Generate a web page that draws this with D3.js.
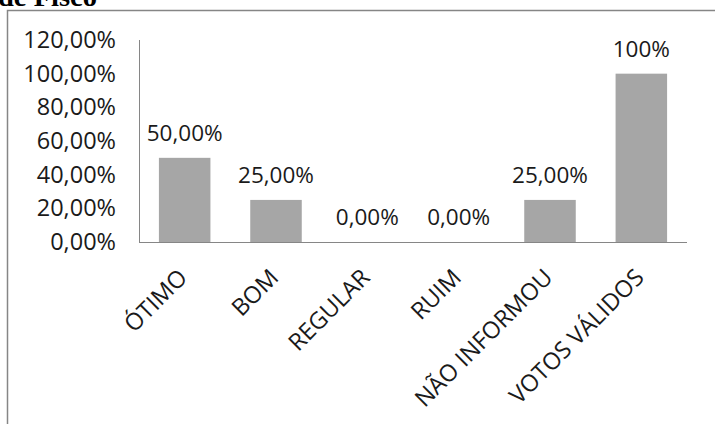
<!DOCTYPE html>
<html>
<head>
<meta charset="utf-8">
<script src="https://cdn.jsdelivr.net/npm/d3@7"></script>
<style>
  html, body { margin: 0; padding: 0; background: #fff; overflow: hidden; }
  svg { display: block; }
</style>
</head>
<body>
<svg id="chart" width="715" height="424"></svg>
<script>
const categories = ["ÓTIMO", "BOM", "REGULAR", "RUIM", "NÃO INFORMOU", "VOTOS VÁLIDOS"];
const values = [0.50, 0.25, 0.00, 0.00, 0.25, 1.00];
const valueLabels = ["50,00%", "25,00%", "0,00%", "0,00%", "25,00%", "100%"];
const yTicks = [0, 0.2, 0.4, 0.6, 0.8, 1.0, 1.2];
const yTickLabels = ["0,00%", "20,00%", "40,00%", "60,00%", "80,00%", "100,00%", "120,00%"];
const title = "de Fisco";

const svg = d3.select("#chart");
const font = "'Open Sans', sans-serif";
const textColor = "#1a1a1a";
const axisColor = "#868686";

// Partial heading above the chart box (cut off at the top, as in the reference)
svg.append("text")
  .attr("x", -2).attr("y", 6)
  .attr("font-family", "'Liberation Serif', 'Times New Roman', serif")
  .attr("font-weight", "bold")
  .attr("font-size", 28)
  .attr("textLength", 99)
  .attr("lengthAdjust", "spacingAndGlyphs")
  .attr("fill", "#000")
  .text(title);

// Chart border (extends beyond right and bottom)
svg.append("rect")
  .attr("x", 7.5).attr("y", 10.5)
  .attr("width", 720).attr("height", 430)
  .attr("fill", "none")
  .attr("stroke", axisColor)
  .attr("stroke-width", 1.5);

const plot = { left: 139, right: 687, top: 40, bottom: 242 };

const x = d3.scaleBand()
  .domain(categories)
  .range([plot.left, plot.right])
  .paddingInner(0.436)
  .paddingOuter(0.218);

const y = d3.scaleLinear()
  .domain([0, 1.2])
  .range([plot.bottom, plot.top]);

// Bars
svg.append("g").selectAll("rect")
  .data(categories)
  .join("rect")
  .attr("x", d => x(d))
  .attr("y", (d, i) => y(values[i]))
  .attr("width", x.bandwidth())
  .attr("height", (d, i) => y(0) - y(values[i]))
  .attr("fill", "#a6a6a6");

// Y axis
const yAxis = d3.axisLeft(y)
  .tickValues(yTicks)
  .tickFormat((d, i) => yTickLabels[i])
  .tickSize(0)
  .tickPadding(23);
const gy = svg.append("g")
  .attr("transform", `translate(${plot.left},0)`)
  .call(yAxis);
gy.select(".domain").attr("stroke", axisColor).attr("stroke-width", 1)
  .attr("d", `M0.5,${plot.top}V${plot.bottom}`);
gy.selectAll("text")
  .attr("font-family", font)
  .attr("font-size", 23.5)
  .attr("fill", textColor);

// X axis
const xAxis = d3.axisBottom(x).tickSize(0).tickFormat("");
const gx = svg.append("g")
  .attr("transform", `translate(0,${plot.bottom})`)
  .call(xAxis);
gx.select(".domain").attr("stroke", axisColor).attr("stroke-width", 1)
  .attr("d", `M${plot.left},0.5H${plot.right}`);

// X labels, rotated
svg.append("g").selectAll("text")
  .data(categories)
  .join("text")
  .attr("transform", d => `translate(${x(d) + x.bandwidth() / 2 + 4},279) rotate(-45)`)
  .attr("text-anchor", "end")
  .attr("font-family", font)
  .attr("font-size", 23.5)
  .attr("fill", textColor)
  .text(d => d);

// Value labels
svg.append("g").selectAll("text")
  .data(categories)
  .join("text")
  .attr("x", d => x(d) + x.bandwidth() / 2)
  .attr("y", (d, i) => y(values[i]) - 17)
  .attr("text-anchor", "middle")
  .attr("font-family", font)
  .attr("font-size", 22.5)
  .attr("fill", textColor)
  .text((d, i) => valueLabels[i]);
</script>
</body>
</html>
